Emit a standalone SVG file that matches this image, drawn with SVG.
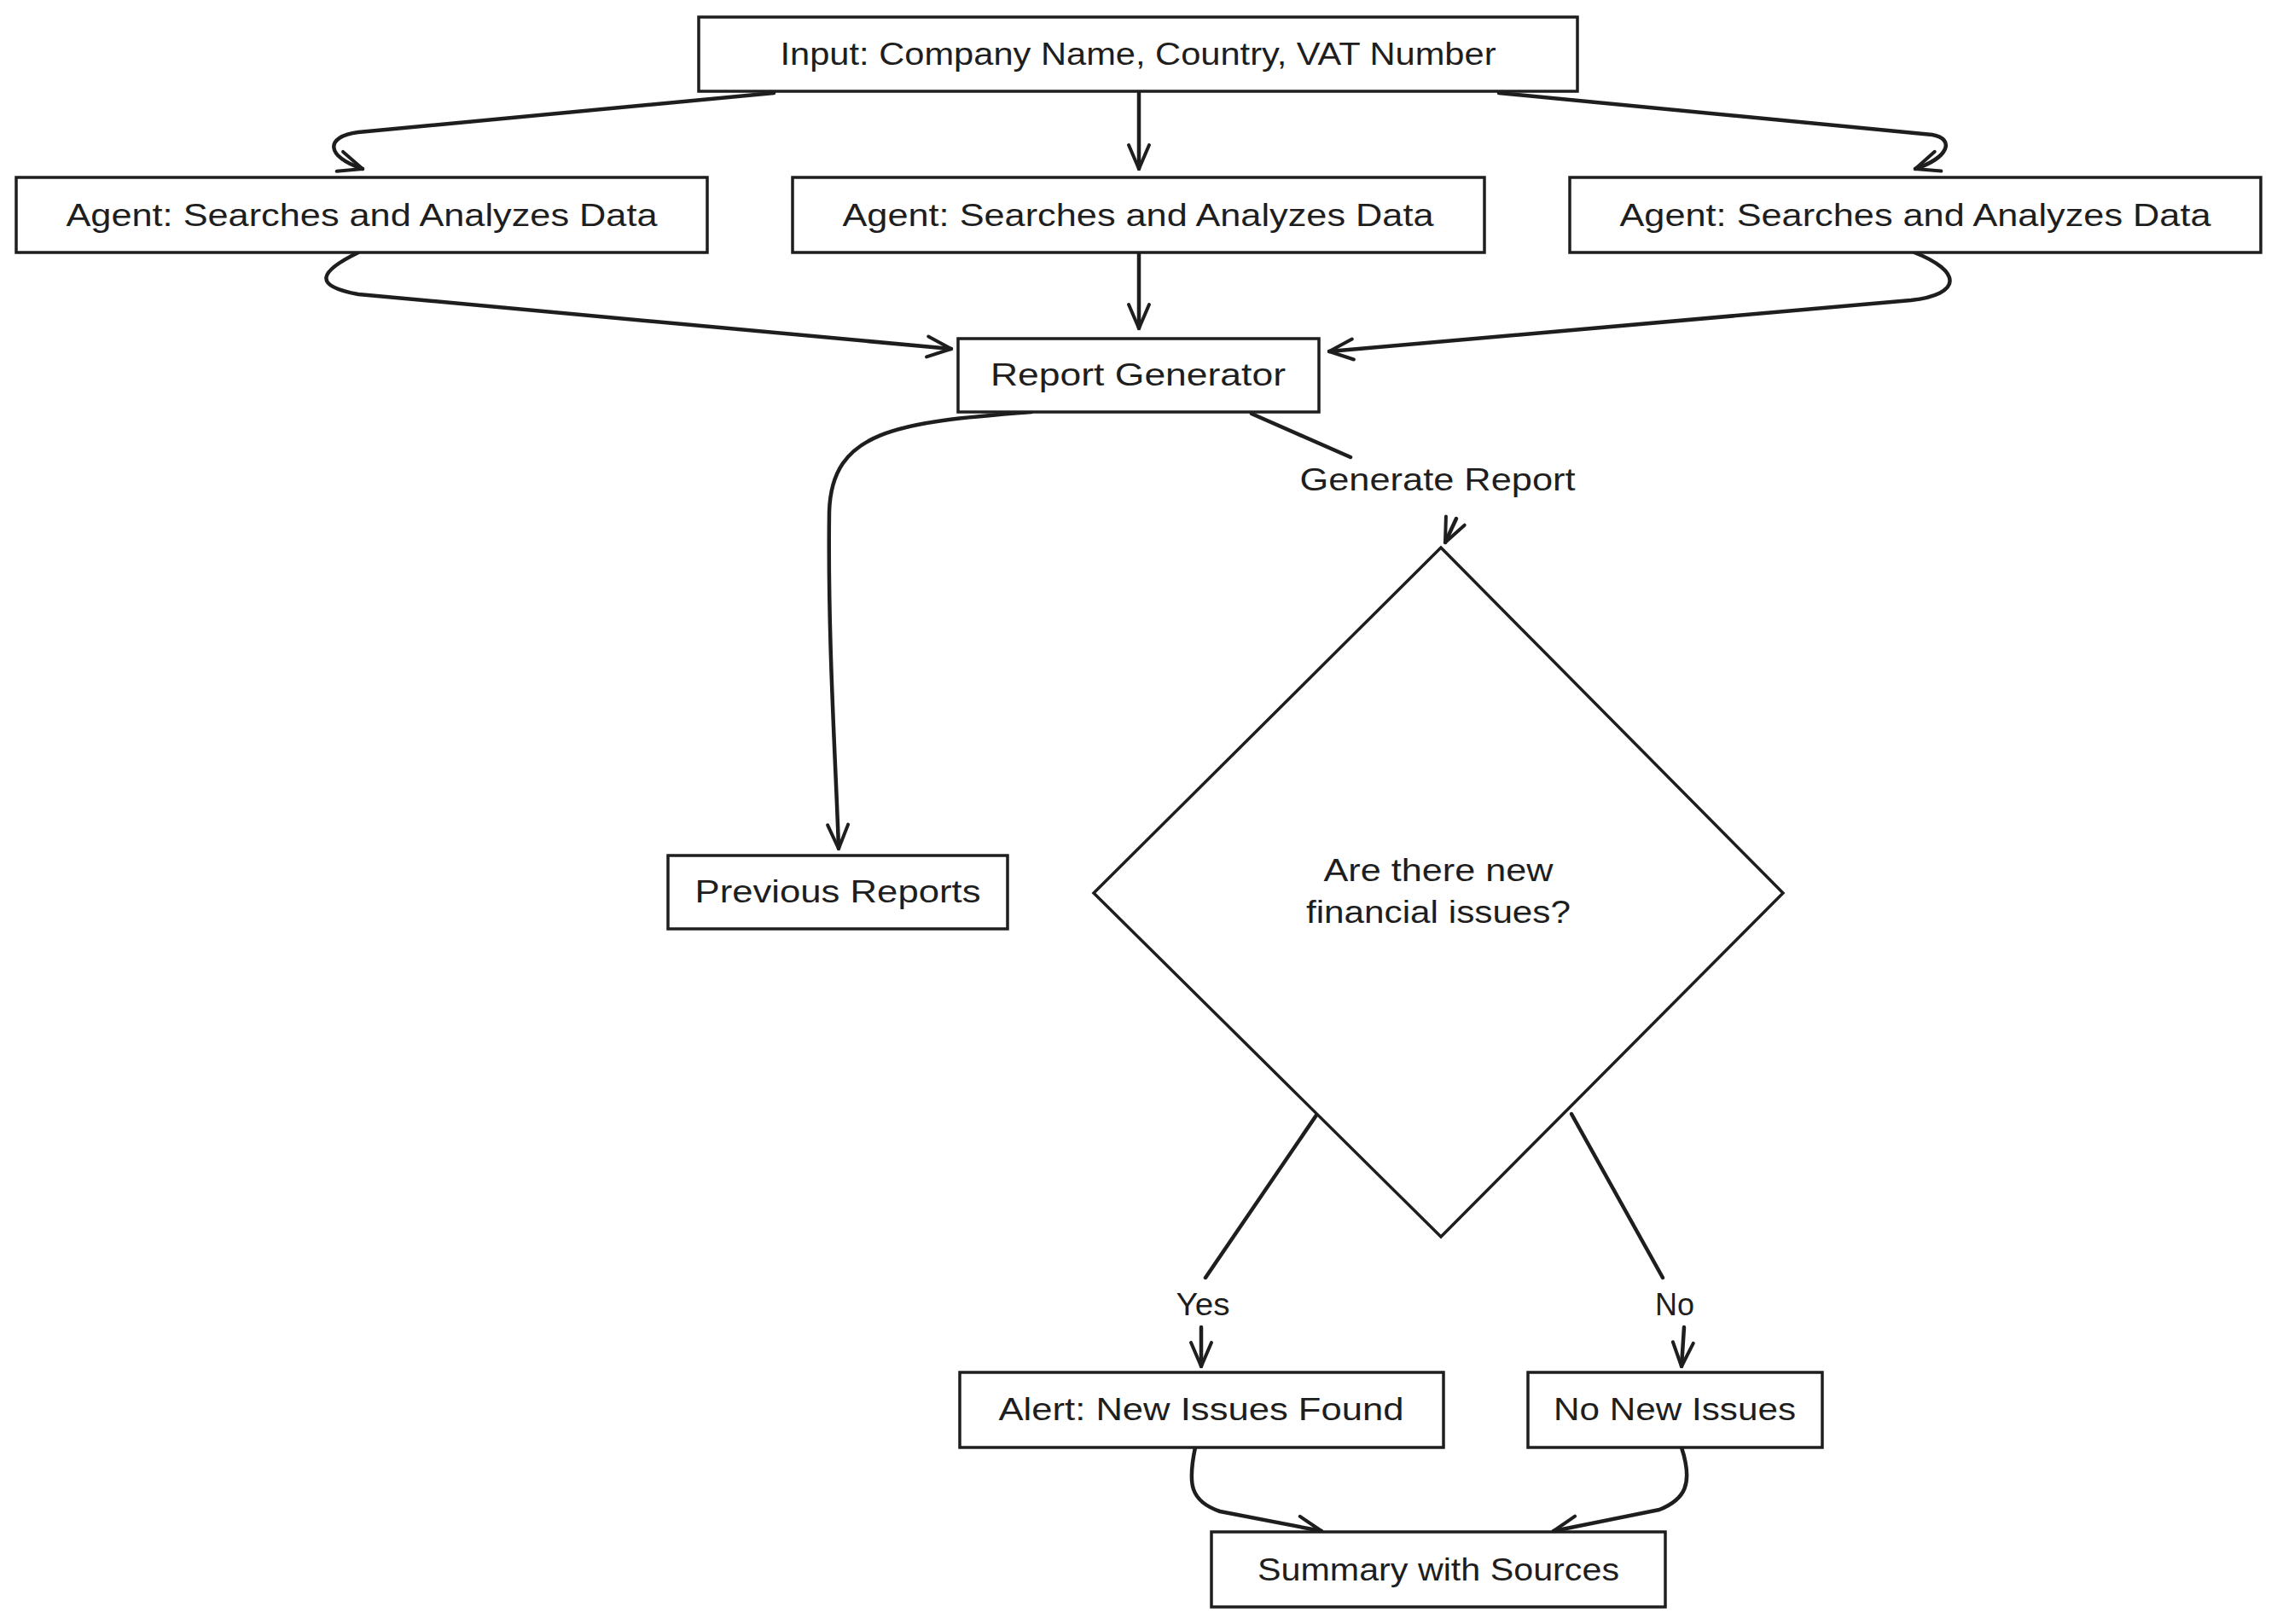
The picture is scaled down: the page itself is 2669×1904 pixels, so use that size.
<svg xmlns="http://www.w3.org/2000/svg" width="2669" height="1904" viewBox="0 0 2669 1904">
<style>
.box{fill:#ffffff;stroke:#1e1e1e;stroke-width:3.5}
.t{font-family:"Liberation Sans","DejaVu Sans",sans-serif;font-size:36px;fill:#1e1e1e;text-anchor:middle;dominant-baseline:central}
.c{fill:none;stroke:#1e1e1e;stroke-width:4.5;stroke-linecap:round;stroke-linejoin:round}
</style>
<defs>
<marker id="ah" markerUnits="userSpaceOnUse" markerWidth="40" markerHeight="40" viewBox="0 0 40 40" refX="36" refY="20" orient="auto">
<path d="M8,8 L36,20 L8,32" fill="none" stroke="#1e1e1e" stroke-width="4" stroke-linecap="round" stroke-linejoin="round"/>
</marker>
</defs>
<rect width="2669" height="1904" fill="#ffffff"/>
<g id="connectors">
<path class="c" marker-end="url(#ah)" d="M907,109 L420,155 C380,160 382,184 425,198"/>
<path class="c" marker-end="url(#ah)" d="M1335,109 L1335,198"/>
<path class="c" marker-end="url(#ah)" d="M1757,109 L2265,158 C2292,163 2284,185 2245,198"/>
<path class="c" marker-end="url(#ah)" d="M420,296 C375,318 365,335 420,345 L1115,409"/>
<path class="c" marker-end="url(#ah)" d="M1335,296 L1335,385"/>
<path class="c" marker-end="url(#ah)" d="M2244,296 C2300,318 2300,345 2240,352 L1558,412"/>
<path class="c" marker-end="url(#ah)" d="M1209,483 C1050,495 975,505 972,600 C970,750 980,900 983,995"/>
<path class="c" d="M1467,485 L1583,536"/>
<path class="c" marker-end="url(#ah)" d="M1707,608 L1694,636"/>
<path class="c" d="M1544,1306 L1413,1498"/>
<path class="c" marker-end="url(#ah)" d="M1408,1556 L1408,1602"/>
<path class="c" d="M1842,1306 L1949,1498"/>
<path class="c" marker-end="url(#ah)" d="M1974,1556 L1971,1602"/>
<path class="c" marker-end="url(#ah)" d="M1401,1697 C1392,1740 1395,1760 1430,1772 L1549,1795"/>
<path class="c" marker-end="url(#ah)" d="M1971,1697 C1985,1740 1975,1758 1945,1770 L1821,1795"/>
<text class="t" x="1685" y="562" textLength="323" lengthAdjust="spacingAndGlyphs">Generate Report</text>
<text class="t" x="1410" y="1529" textLength="63" lengthAdjust="spacingAndGlyphs">Yes</text>
<text class="t" x="1963" y="1529" textLength="46" lengthAdjust="spacingAndGlyphs">No</text>
</g>
<g id="input">
<rect class="box" x="819" y="20" width="1030" height="87"/>
<text class="t" x="1334" y="63" textLength="839" lengthAdjust="spacingAndGlyphs">Input: Company Name, Country, VAT Number</text>
</g>
<g id="agent1">
<rect class="box" x="19" y="208" width="810" height="88"/>
<text class="t" x="424" y="252" textLength="693" lengthAdjust="spacingAndGlyphs">Agent: Searches and Analyzes Data</text>
</g>
<g id="agent2">
<rect class="box" x="929" y="208" width="811" height="88"/>
<text class="t" x="1334" y="252" textLength="693" lengthAdjust="spacingAndGlyphs">Agent: Searches and Analyzes Data</text>
</g>
<g id="agent3">
<rect class="box" x="1840" y="208" width="810" height="88"/>
<text class="t" x="2245" y="252" textLength="693" lengthAdjust="spacingAndGlyphs">Agent: Searches and Analyzes Data</text>
</g>
<g id="report-generator">
<rect class="box" x="1123" y="397" width="423" height="86"/>
<text class="t" x="1334" y="439" textLength="346" lengthAdjust="spacingAndGlyphs">Report Generator</text>
</g>
<g id="previous-reports">
<rect class="box" x="783" y="1003" width="398" height="86"/>
<text class="t" x="982" y="1045" textLength="335" lengthAdjust="spacingAndGlyphs">Previous Reports</text>
</g>
<g id="decision">
<polygon class="box" points="1689,642 2090,1047 1689,1450 1282,1047"/>
<text class="t" x="1686" y="1020" textLength="269" lengthAdjust="spacingAndGlyphs">Are there new</text>
<text class="t" x="1686" y="1069" textLength="310" lengthAdjust="spacingAndGlyphs">financial issues?</text>
</g>
<g id="alert">
<rect class="box" x="1125" y="1609" width="567" height="88"/>
<text class="t" x="1408" y="1652" textLength="475" lengthAdjust="spacingAndGlyphs">Alert: New Issues Found</text>
</g>
<g id="no-new-issues">
<rect class="box" x="1791" y="1609" width="345" height="88"/>
<text class="t" x="1963" y="1652" textLength="284" lengthAdjust="spacingAndGlyphs">No New Issues</text>
</g>
<g id="summary">
<rect class="box" x="1420" y="1796" width="532" height="88"/>
<text class="t" x="1686" y="1840" textLength="424" lengthAdjust="spacingAndGlyphs">Summary with Sources</text>
</g>
</svg>
